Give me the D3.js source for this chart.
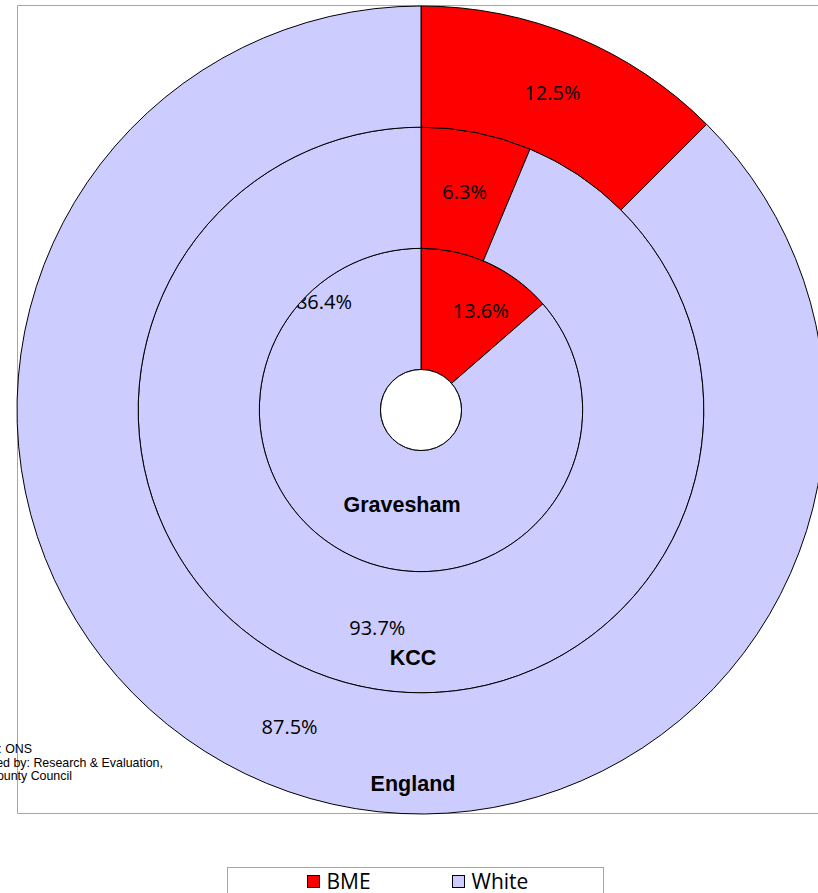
<!DOCTYPE html>
<html>
<head>
<meta charset="utf-8">
<script src="https://cdn.jsdelivr.net/npm/d3@7"></script>
<style>
  body { margin: 0; background: #fff; }
  svg { display: block; }
</style>
</head>
<body>
<svg id="chart" width="818" height="893"></svg>
<script>
// Chart data (inner ring first)
var ring_names = ["Gravesham", "KCC", "England"];
var category_names = ["BME", "White"];
var bme_values = [13.6, 6.3, 12.5];
var white_values = [86.4, 93.7, 87.5];
var category_colors = ["#ff0000", "#ccccff"];

var svg = d3.select("#chart");

// Centre and ring radii
var cx = 421, cy = 410;
var hole_radius = 40.5;
var ring_width = (404 - hole_radius) / 3;

// plot area border (right edge runs off the page)
svg.append("path")
    .attr("d", "M818,5.5 H17.5 V813.5 H818")
    .attr("fill", "none")
    .attr("stroke", "#a6a6a6")
    .attr("stroke-width", 1);

var chart_group = svg.append("g").attr("transform", "translate(" + cx + "," + cy + ")");

var pie_gen = d3.pie().sort(null).value(function (d) { return d; });

// Label placement tweaks for the inner ring (Excel pushes them around)
var label_tweak = [
    [{ a: 31, r: 116 }, { a: -42, r: 145 }],
    null,
    null
];

ring_names.forEach(function (name, i) {
    var inner_r = hole_radius + i * ring_width;
    var outer_r = inner_r + ring_width;
    var arc_gen = d3.arc().innerRadius(inner_r).outerRadius(outer_r);
    var slices = pie_gen([bme_values[i], white_values[i]]);

    var ring = chart_group.append("g").attr("class", "ring-" + i);

    ring.selectAll("path")
        .data(slices)
        .enter()
        .append("path")
        .attr("d", arc_gen)
        .attr("fill", function (d, k) { return category_colors[k]; })
        .attr("stroke", "#000")
        .attr("stroke-width", 1);

    ring.selectAll("text.pct")
        .data(slices)
        .enter()
        .append("text")
        .attr("class", "pct")
        .attr("transform", function (d, k) {
            var pos;
            if (label_tweak[i]) {
                var t = label_tweak[i][k];
                var ang = t.a * Math.PI / 180;
                pos = [t.r * Math.sin(ang), -t.r * Math.cos(ang)];
            } else {
                pos = arc_gen.centroid(d);
            }
            return "translate(" + pos[0] + "," + pos[1] + ")";
        })
        .attr("text-anchor", "middle")
        .attr("dy", "0.35em")
        .style("font-family", "'Open Sans', sans-serif")
        .style("font-size", "20px")
        .style("fill", "#000")
        .text(function (d) { return d.value.toFixed(1) + "%"; });
});

// centre hole outline
chart_group.append("circle")
    .attr("r", hole_radius)
    .attr("fill", "#fff")
    .attr("stroke", "#000")
    .attr("stroke-width", 1);

// series names at bottom of each ring
var name_pos = [{ dx: -19, dy: 102 }, { dx: -8, dy: 255 }, { dx: -8, dy: 381 }];
ring_names.forEach(function (name, i) {
    chart_group.append("text")
        .attr("x", name_pos[i].dx)
        .attr("y", name_pos[i].dy)
        .attr("text-anchor", "middle")
        .style("font-family", "'Liberation Sans', Arial, sans-serif")
        .style("font-weight", "bold")
        .style("font-size", "21.5px")
        .text(name);
});

// source note (clipped on the left like the original)
var source_lines = ["Source: ONS", "Prepared by: Research & Evaluation,", "Kent County Council"];
svg.append("g").selectAll("text")
    .data(source_lines)
    .enter()
    .append("text")
    .attr("x", -41)
    .attr("y", function (d, i) { return 753 + i * 13.5; })
    .style("font-family", "'Liberation Sans', Arial, sans-serif")
    .style("font-size", "12.4px")
    .style("fill", "#000")
    .text(function (d) { return d; });

// Legend
var legend = svg.append("g");
legend.append("rect")
    .attr("x", 227.5).attr("y", 867.5)
    .attr("width", 376).attr("height", 40)
    .attr("fill", "#fff")
    .attr("stroke", "#a6a6a6");

var legend_x = [307.5, 452.5];
category_names.forEach(function (name, k) {
    legend.append("rect")
        .attr("x", legend_x[k]).attr("y", 875.5)
        .attr("width", 12).attr("height", 12)
        .attr("fill", category_colors[k])
        .attr("stroke", "#000")
        .attr("stroke-width", 1);
    legend.append("text")
        .attr("x", legend_x[k] + 19)
        .attr("y", 889)
        .style("font-family", "'Open Sans', sans-serif")
        .style("font-size", "21px")
        .text(name);
});
</script>
</body>
</html>
